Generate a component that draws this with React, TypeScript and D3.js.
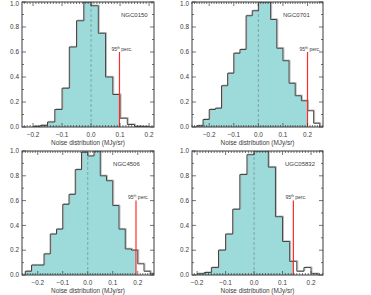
import { select, scaleLinear, line, area, range } from "d3";
import { useEffect, useRef } from "react";

// galaxy names, one panel each
const panelNames = ["NGC0150", "NGC0701", "NGC4506", "UGC05832"];

// normalised histograms, bin width 0.025 MJy/sr
const binWidth = 0.025;
const binStarts = [-0.2, -0.25, -0.25, -0.2];
const ngc0150 = [0.005, 0.013, 0.04, 0.14, 0.31, 0.64, 0.85, 1.0, 0.97, 0.75, 0.4, 0.26, 0.07, 0.02, 0.005, 0.003];
const ngc0701 = [0.01, 0.06, 0.14, 0.15, 0.33, 0.43, 0.59, 0.62, 0.89, 0.93, 1.0, 1.0, 0.86, 0.63, 0.53, 0.35, 0.25, 0.21, 0.13, 0.03];
const ngc4506 = [0.03, 0.08, 0.08, 0.17, 0.33, 0.37, 0.57, 0.65, 0.85, 0.99, 0.96, 1.0, 0.8, 0.76, 0.56, 0.37, 0.21, 0.2, 0.09, 0.03, 0.01];
const ugc05832 = [0.01, 0.02, 0.06, 0.2, 0.33, 0.53, 0.81, 0.97, 1.0, 1.0, 0.87, 0.47, 0.27, 0.11, 0.03, 0.06, 0.01];
const counts = [ngc0150, ngc0701, ngc4506, ugc05832];

// 95th percentile of each distribution
const perc95 = [0.098, 0.2, 0.193, 0.138];

// x ranges of the panels
const xDomains = [
  [-0.238, 0.217],
  [-0.27, 0.263],
  [-0.263, 0.265],
  [-0.218, 0.242],
];
const xTicks = [-0.2, -0.1, 0.0, 0.1, 0.2];
const yTicks = [0, 0.2, 0.4, 0.6, 0.8, 1.0];
const xTitle = "Noise distribution (MJy/sr)";

const W = 371;
const H = 295;
const frames = [
  { x0: 22, x1: 154, y0: 2, y1: 127, nameAt: 0.75 },
  { x0: 192, x1: 323, y0: 2, y1: 127, nameAt: 0.695 },
  { x0: 22, x1: 154, y0: 151, y1: 275, nameAt: 0.69 },
  { x0: 192, x1: 323, y0: 151, y1: 275, nameAt: 0.71 },
];

const font = "'Liberation Sans', Arial, sans-serif";
const ink = "#3a3a3a";

export default function App() {
  const ref = useRef<SVGSVGElement>(null);

  useEffect(() => {
    const svg = select(ref.current);
    svg.selectAll("*").remove();
    svg.append("rect").attr("width", W).attr("height", H).attr("fill", "#fff");

    frames.forEach((f, p) => {
      const x = scaleLinear().domain(xDomains[p]).range([f.x0, f.x1]);
      const y = scaleLinear().domain([0, 1]).range([f.y1, f.y0]);
      const g = svg.append("g");

      // clip to the frame, and a second clip for the filled part (< 95th perc.)
      const clipId = `frame-${p}`;
      const fillId = `fill-${p}`;
      const defs = g.append("defs");
      defs.append("clipPath").attr("id", clipId)
        .append("rect").attr("x", f.x0).attr("y", f.y0)
        .attr("width", f.x1 - f.x0).attr("height", f.y1 - f.y0);
      defs.append("clipPath").attr("id", fillId)
        .append("rect").attr("x", f.x0).attr("y", f.y0)
        .attr("width", x(perc95[p]) - f.x0).attr("height", f.y1 - f.y0);

      // step points of the histogram
      const vals = counts[p];
      const s = binStarts[p];
      const pts: [number, number][] = [[s, 0]];
      vals.forEach((v, i) => {
        pts.push([s + i * binWidth, v]);
        pts.push([s + (i + 1) * binWidth, v]);
      });
      pts.push([s + vals.length * binWidth, 0]);

      const fillArea = area<[number, number]>()
        .x(d => x(d[0])).y0(y(0)).y1(d => y(d[1]));
      const outline = line<[number, number]>()
        .x(d => x(d[0])).y(d => y(d[1]));

      const plot = g.append("g").attr("clip-path", `url(#${clipId})`);
      plot.append("path")
        .attr("d", fillArea(pts))
        .attr("fill", "#9ddbdb")
        .attr("clip-path", `url(#${fillId})`);

      // dashed zero line
      plot.append("line")
        .attr("x1", x(0)).attr("x2", x(0))
        .attr("y1", y(0)).attr("y2", y(1))
        .attr("stroke", "#7a9e9e").attr("stroke-width", 0.9)
        .attr("stroke-dasharray", "3,2");

      // outline with a light shadow
      plot.append("path")
        .attr("d", outline(pts))
        .attr("transform", "translate(1,-0.7)")
        .attr("fill", "none").attr("stroke", "#b8b8b8").attr("stroke-width", 0.9);
      plot.append("path")
        .attr("d", outline(pts))
        .attr("fill", "none").attr("stroke", "#444").attr("stroke-width", 1);

      // 95th percentile marker
      g.append("line")
        .attr("x1", x(perc95[p])).attr("x2", x(perc95[p]))
        .attr("y1", y(0)).attr("y2", y(0.6))
        .attr("stroke", "#ff2a2a").attr("stroke-width", 1.2);
      const lab = g.append("text")
        .attr("x", x(perc95[p]) - 8).attr("y", y(0.6) - 1.5)
        .attr("font-family", font).attr("font-size", 5).attr("fill", ink);
      lab.append("tspan").text("95");
      lab.append("tspan").attr("font-size", 3.5).attr("dy", -1.8).text("th");
      lab.append("tspan").attr("dy", 1.8).text(" perc.");

      // frame
      g.append("rect")
        .attr("x", f.x0).attr("y", f.y0)
        .attr("width", f.x1 - f.x0).attr("height", f.y1 - f.y0)
        .attr("fill", "none").attr("stroke", ink).attr("stroke-width", 1);

      // x ticks (minor every 0.01), mirrored on top
      const d = xDomains[p];
      range(Math.ceil(d[0] * 100), Math.floor(d[1] * 100) + 1).forEach(k => {
        const len = k % 10 === 0 ? 4 : 2;
        const xx = x(k / 100);
        g.append("line").attr("x1", xx).attr("x2", xx)
          .attr("y1", f.y1).attr("y2", f.y1 - len)
          .attr("stroke", ink).attr("stroke-width", 0.7);
        g.append("line").attr("x1", xx).attr("x2", xx)
          .attr("y1", f.y0).attr("y2", f.y0 + len)
          .attr("stroke", ink).attr("stroke-width", 0.7);
      });
      // y ticks (minor every 0.1), mirrored on right
      range(0, 11).forEach(k => {
        const len = k % 2 === 0 ? 4 : 2;
        const yy = y(k / 10);
        g.append("line").attr("x1", f.x0).attr("x2", f.x0 + len)
          .attr("y1", yy).attr("y2", yy)
          .attr("stroke", ink).attr("stroke-width", 0.7);
        g.append("line").attr("x1", f.x1).attr("x2", f.x1 - len)
          .attr("y1", yy).attr("y2", yy)
          .attr("stroke", ink).attr("stroke-width", 0.7);
      });

      // tick labels
      g.selectAll(null).data(xTicks).join("text")
        .attr("x", t => x(t)).attr("y", f.y1 + 9.5)
        .attr("text-anchor", "middle")
        .attr("font-family", font).attr("font-size", 6.4).attr("fill", ink)
        .text(t => (t < 0 ? "\u2212" : "") + Math.abs(t).toFixed(1));
      g.selectAll(null).data(yTicks).join("text")
        .attr("x", f.x0 - 3).attr("y", t => Math.max(y(t) + 2.2, 5.5))
        .attr("text-anchor", "end")
        .attr("font-family", font).attr("font-size", 6.4).attr("fill", ink)
        .text(t => t.toFixed(1));

      // axis title and galaxy name
      g.append("text")
        .attr("x", (f.x0 + f.x1) / 2).attr("y", f.y1 + 18)
        .attr("text-anchor", "middle")
        .attr("font-family", font).attr("font-size", 6.4).attr("fill", ink)
        .text(xTitle);
      g.append("text")
        .attr("x", f.x0 + f.nameAt * (f.x1 - f.x0)).attr("y", f.y0 + 14.5)
        .attr("font-family", font).attr("font-size", 6).attr("fill", ink)
        .text(panelNames[p]);
    });
  }, []);

  return (
    <div style={{ position: "absolute", left: 0, top: 0 }}>
      <svg ref={ref} width={W} height={H} viewBox={`0 0 ${W} ${H}`} />
    </div>
  );
}
